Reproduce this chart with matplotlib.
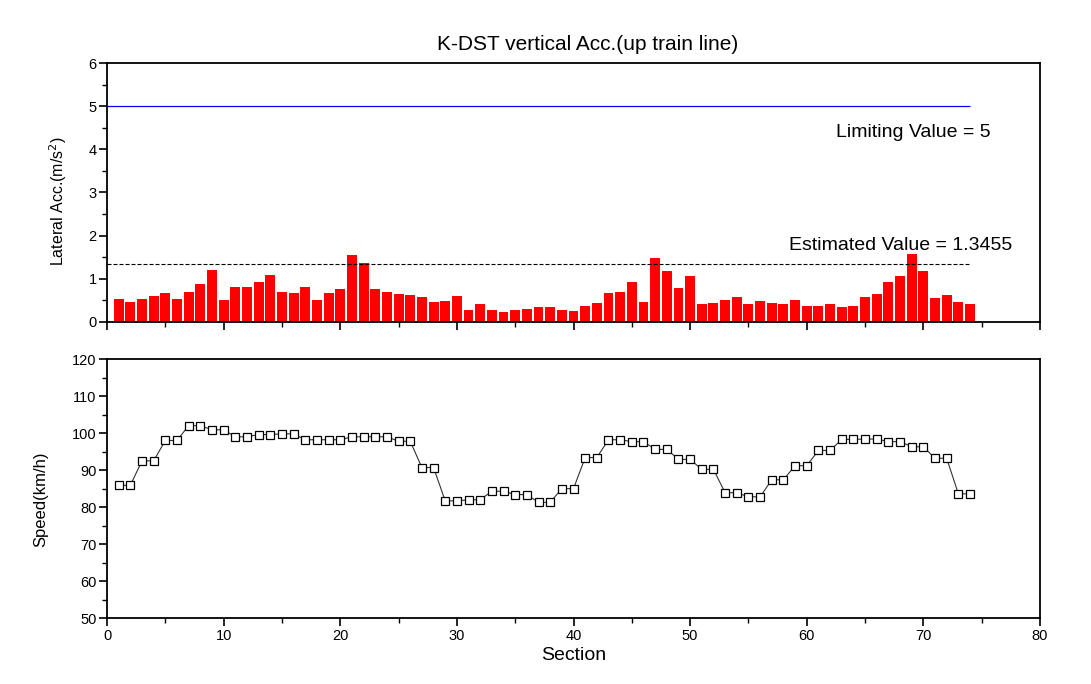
import matplotlib
matplotlib.use("Agg")
import matplotlib.pyplot as plt
from matplotlib.ticker import MultipleLocator

plt.rcParams['font.family'] = ['Liberation Sans', 'DejaVu Sans']

sections = list(range(1, 75))
lateral_acc = [0.53, 0.46, 0.53, 0.60, 0.67, 0.53, 0.70, 0.88, 1.21, 0.51,
               0.81, 0.81, 0.93, 1.09, 0.70, 0.67, 0.81, 0.51, 0.67, 0.77,
               1.56, 1.37, 0.77, 0.70, 0.65, 0.63, 0.58, 0.46, 0.49, 0.60,
               0.28, 0.40, 0.28, 0.23, 0.28, 0.30, 0.33, 0.35, 0.28, 0.26,
               0.37, 0.44, 0.67, 0.70, 0.93, 0.46, 1.49, 1.18, 0.79, 1.05,
               0.42, 0.44, 0.51, 0.58, 0.40, 0.49, 0.44, 0.40, 0.51, 0.37,
               0.37, 0.40, 0.33, 0.37, 0.58, 0.65, 0.93, 1.05, 1.58, 1.18,
               0.56, 0.63, 0.46, 0.40]
speed = [85.9, 85.9, 92.5, 92.5, 98.0, 98.0, 102.0, 102.0, 100.9, 100.9,
         99.0, 99.0, 99.6, 99.6, 99.8, 99.8, 98.2, 98.2, 98.2, 98.2,
         99.0, 99.0, 99.0, 99.0, 97.8, 97.8, 90.7, 90.7, 81.7, 81.7,
         82.0, 82.0, 84.3, 84.3, 83.4, 83.4, 81.3, 81.3, 85.0, 85.0,
         93.4, 93.4, 98.2, 98.2, 97.7, 97.7, 95.6, 95.6, 92.9, 92.9,
         90.2, 90.2, 83.9, 83.9, 82.8, 82.8, 87.4, 87.4, 91.2, 91.2,
         95.3, 95.3, 98.3, 98.3, 98.4, 98.4, 97.7, 97.7, 96.3, 96.3,
         93.2, 93.2, 83.6, 83.6]
limiting_value = 5
estimated_value = 1.3455

W, H = 1091, 684
fig = plt.figure(figsize=(W / 100, H / 100), dpi=100)

def fr(x0, y_top, x1, y_bot):
    return [x0 / W, 1 - y_bot / H, (x1 - x0) / W, (y_bot - y_top) / H]

ax1 = fig.add_axes(fr(107, 63.3, 1040, 321.7))
ax2 = fig.add_axes(fr(107, 359, 1040, 618.3))

# Top: lateral acceleration bars
ax1.bar(sections, lateral_acc, width=0.85, color='#ff0000', edgecolor='none', zorder=2)
ax1.hlines(limiting_value, 0, len(sections), colors='#0000ff', linewidth=0.9, zorder=3)
ax1.hlines(estimated_value, 0, len(sections), colors='black', linewidth=0.8,
           linestyles=(0, (3.6, 1.8)), zorder=3)
ax1.text(62.5, 4.4, 'Limiting Value = 5', fontsize=14, va='center', ha='left')
ax1.text(58.5, 1.76, 'Estimated Value = 1.3455', fontsize=14, va='center', ha='left')
ax1.set_xlim(0, 80)
ax1.set_ylim(0, 6)
ax1.yaxis.set_major_locator(MultipleLocator(1))
ax1.yaxis.set_minor_locator(MultipleLocator(0.5))
ax1.xaxis.set_major_locator(MultipleLocator(10))
ax1.xaxis.set_minor_locator(MultipleLocator(5))
ax1.tick_params(axis='x', labelbottom=False)
ax1.set_ylabel('Lateral Acc.(m/s$^2$)', fontsize=11.5)
ax1.yaxis.label.set_verticalalignment('center')
ax1.yaxis.set_label_coords(-0.0525, 0.467)

# Bottom: speed
ax2.plot(sections, speed, color='#333333', linewidth=0.8, marker='s', markersize=5.2,
         markerfacecolor='white', markeredgecolor='black', markeredgewidth=0.9)
ax2.set_xlim(0, 80)
ax2.set_ylim(50, 120)
ax2.yaxis.set_major_locator(MultipleLocator(10))
ax2.yaxis.set_minor_locator(MultipleLocator(5))
ax2.xaxis.set_major_locator(MultipleLocator(10))
ax2.xaxis.set_minor_locator(MultipleLocator(5))
ax2.set_xlabel('Section', fontsize=14, labelpad=3)
ax2.set_ylabel('Speed(km/h)', fontsize=12)
ax2.yaxis.label.set_verticalalignment('center')
ax2.yaxis.set_label_coords(-0.0707, 0.458)

for ax in (ax1, ax2):
    for s in ax.spines.values():
        s.set_linewidth(1.3)
    ax.tick_params(which='major', direction='out', length=5.5, width=1.2, labelsize=10.5, pad=2)
    ax.tick_params(which='minor', direction='out', length=3.5, width=1.0)

fig.text(588 / W, 1 - 45 / H, 'K-DST vertical Acc.(up train line)', fontsize=15,
         ha='center', va='center')

fig.savefig('out.png', dpi=100)
